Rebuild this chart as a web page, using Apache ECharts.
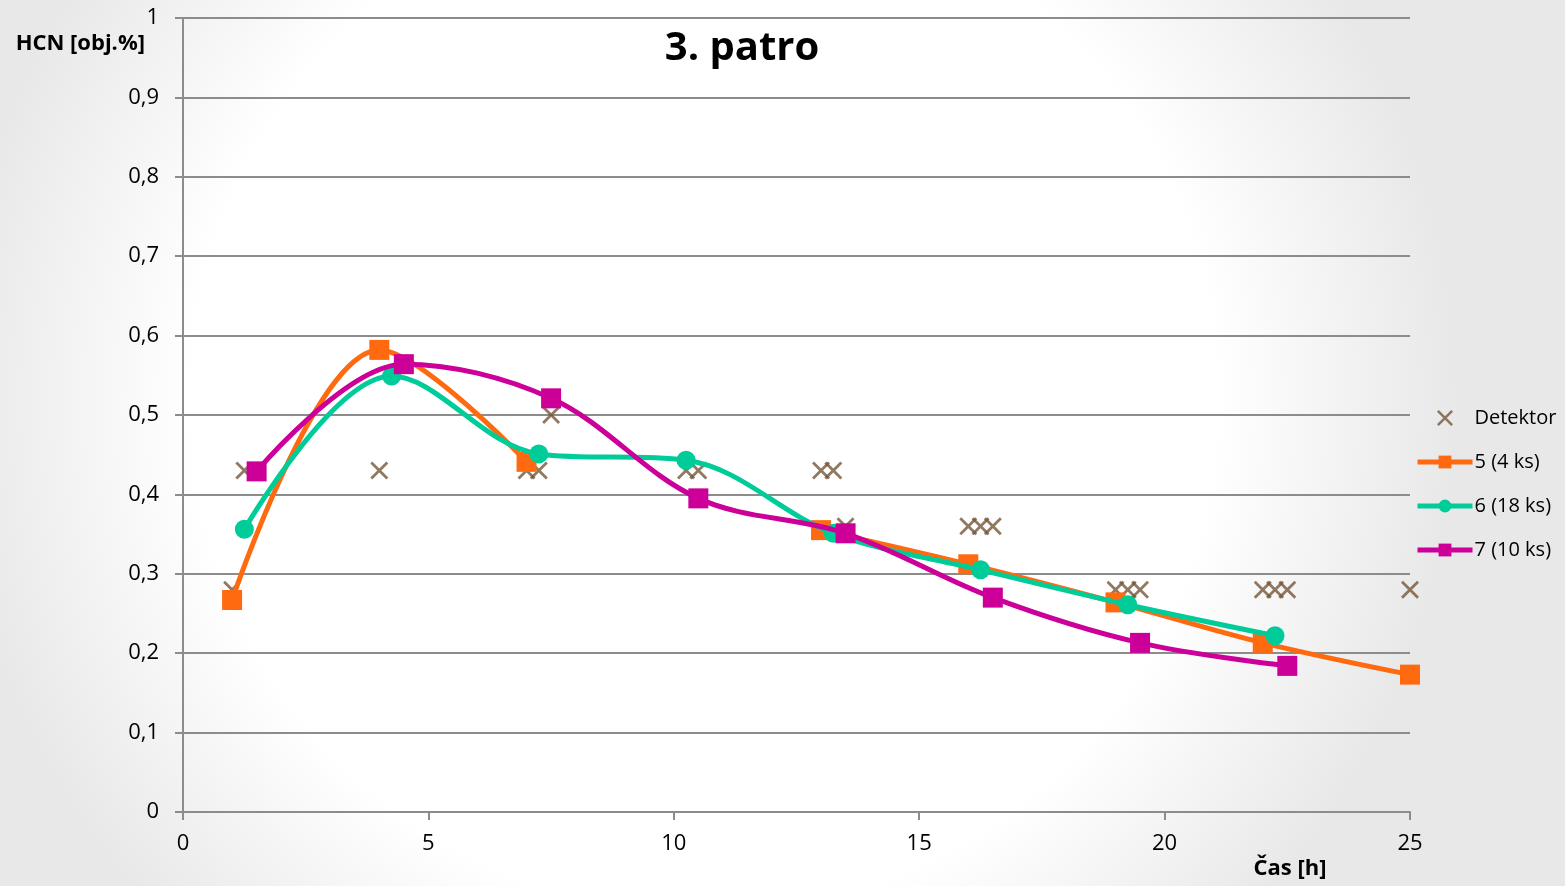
<!DOCTYPE html>
<html>
<head>
<meta charset="utf-8">
<script src="https://cdn.jsdelivr.net/npm/echarts@6/dist/echarts.min.js"></script>
<style>
html,body{margin:0;padding:0;}
#chart{width:1565px;height:886px;}
</style>
</head>
<body>
<div id="chart"></div>
<script>
// ---- data ----
const seriesNames = ['Detektor', '5 (4 ks)', '6 (18 ks)', '7 (10 ks)'];
const detektorX = [1, 1.25, 4, 7, 7.25, 7.5, 10.25, 10.5, 13, 13.25, 13.5, 16, 16.25, 16.5, 19, 19.25, 19.5, 22, 22.25, 22.5, 25];
const detektorY = [0.28, 0.43, 0.43, 0.43, 0.43, 0.50, 0.43, 0.43, 0.43, 0.43, 0.36, 0.36, 0.36, 0.36, 0.28, 0.28, 0.28, 0.28, 0.28, 0.28, 0.28];
// series 5 has no value at 10 h (gap in the line)
const s5X = [1, 4, 7, 10, 13, 16, 19, 22, 25];
const s5Y = [0.267, 0.582, 0.441, null, 0.355, 0.312, 0.264, 0.213, 0.173];
const s6X = [1.25, 4.25, 7.25, 10.25, 13.25, 16.25, 19.25, 22.25];
const s6Y = [0.356, 0.549, 0.451, 0.443, 0.351, 0.305, 0.261, 0.222];
const s7X = [1.5, 4.5, 7.5, 10.5, 13.5, 16.5, 19.5, 22.5];
const s7Y = [0.429, 0.564, 0.521, 0.395, 0.351, 0.270, 0.213, 0.184];
const xTicks = [0, 5, 10, 15, 20, 25];
const yTicks = [0, 0.1, 0.2, 0.3, 0.4, 0.5, 0.6, 0.7, 0.8, 0.9, 1];

const pairs = (xs, ys) => xs.map((x, i) => [x, ys[i] === null ? '-' : ys[i]]);
const FONT = '"Open Sans", "Noto Sans", sans-serif';
const crossPath = 'path://M0,1.1 L1.1,0 L10,8.9 L8.9,10 Z M8.9,0 L10,1.1 L1.1,10 L0,8.9 Z';
const colors = ['#76583A', '#FF6A10', '#00CC99', '#CC0099'];

const chart = echarts.init(document.getElementById('chart'));
chart.setOption({
  backgroundColor: {
    type: 'radial', x: 0.45, y: 0.45, r: 0.85,
    colorStops: [{offset: 0, color: '#ffffff'}, {offset: 0.68, color: '#ffffff'}, {offset: 1, color: '#e8e8e8'}]
  },
  animation: false,
  title: {
    text: '3. patro',
    left: 737, top: 24, textAlign: 'center',
    textStyle: {fontFamily: FONT, fontSize: 40, fontWeight: 'bold', color: '#000'}
  },
  legend: {
    orient: 'vertical', left: 1415, top: 408, itemGap: 24, padding: 0,
    itemWidth: 55, itemHeight: 16,
    lineStyle: {width: 5},
    textStyle: {fontFamily: FONT, fontSize: 20, color: '#000', padding: [0, 0, 0, -3]},
    data: [
      {name: seriesNames[0], icon: crossPath},
      {name: seriesNames[1]},
      {name: seriesNames[2]},
      {name: seriesNames[3]}
    ]
  },
  grid: {left: 183, right: 155, top: 18, bottom: 74},
  xAxis: {
    type: 'value', min: 0, max: 25, interval: 5,
    name: 'Čas [h]', nameLocation: 'end', nameGap: -120,
    nameTextStyle: {fontFamily: FONT, fontSize: 22, fontWeight: 'bold', color: '#000', align: 'center', verticalAlign: 'top', padding: [46, 0, 0, 0]},
    axisLine: {show: true, lineStyle: {color: '#8c8c8c', width: 2}},
    axisTick: {show: true, length: 8, lineStyle: {color: '#8c8c8c', width: 2}},
    axisLabel: {fontFamily: FONT, fontSize: 22, color: '#000', margin: 21,
      formatter: v => xTicks.includes(v) ? String(v) : ''},
    splitLine: {show: false}
  },
  yAxis: {
    type: 'value', min: 0, max: 1, interval: 0.1,
    name: 'HCN [obj.%]', nameLocation: 'end', nameGap: -37,
    nameTextStyle: {fontFamily: FONT, fontSize: 22, fontWeight: 'bold', color: '#000', align: 'right', padding: [0, 38, 0, 0]},
    axisLine: {show: true, lineStyle: {color: '#8c8c8c', width: 2}},
    axisTick: {show: true, length: 8, lineStyle: {color: '#8c8c8c', width: 2}},
    axisLabel: {fontFamily: FONT, fontSize: 22, color: '#000', margin: 24,
      formatter: v => {
        const t = yTicks.find(y => Math.abs(y - v) < 1e-9);
        if (t === undefined) return '';
        return String(Math.round(t * 10) / 10).replace('.', ',');
      }},
    splitLine: {show: true, lineStyle: {color: '#8c8c8c', width: 2}}
  },
  series: [
    {
      name: seriesNames[0], type: 'scatter', data: pairs(detektorX, detektorY),
      symbol: crossPath, symbolSize: 18, z: 3,
      itemStyle: {color: colors[0]}
    },
    {
      name: seriesNames[1], type: 'line', data: pairs(s5X, s5Y), smooth: 0.35,
      connectNulls: false,
      symbol: 'rect', symbolSize: 20, z: 4,
      lineStyle: {color: colors[1], width: 5},
      itemStyle: {color: colors[1]}
    },
    {
      name: seriesNames[2], type: 'line', data: pairs(s6X, s6Y), smooth: 0.35,
      symbol: 'circle', symbolSize: 19, z: 5,
      lineStyle: {color: colors[2], width: 5},
      itemStyle: {color: colors[2]}
    },
    {
      name: seriesNames[3], type: 'line', data: pairs(s7X, s7Y), smooth: 0.35,
      symbol: 'rect', symbolSize: 20, z: 6,
      lineStyle: {color: colors[3], width: 5},
      itemStyle: {color: colors[3]}
    }
  ]
});
</script>
</body>
</html>
